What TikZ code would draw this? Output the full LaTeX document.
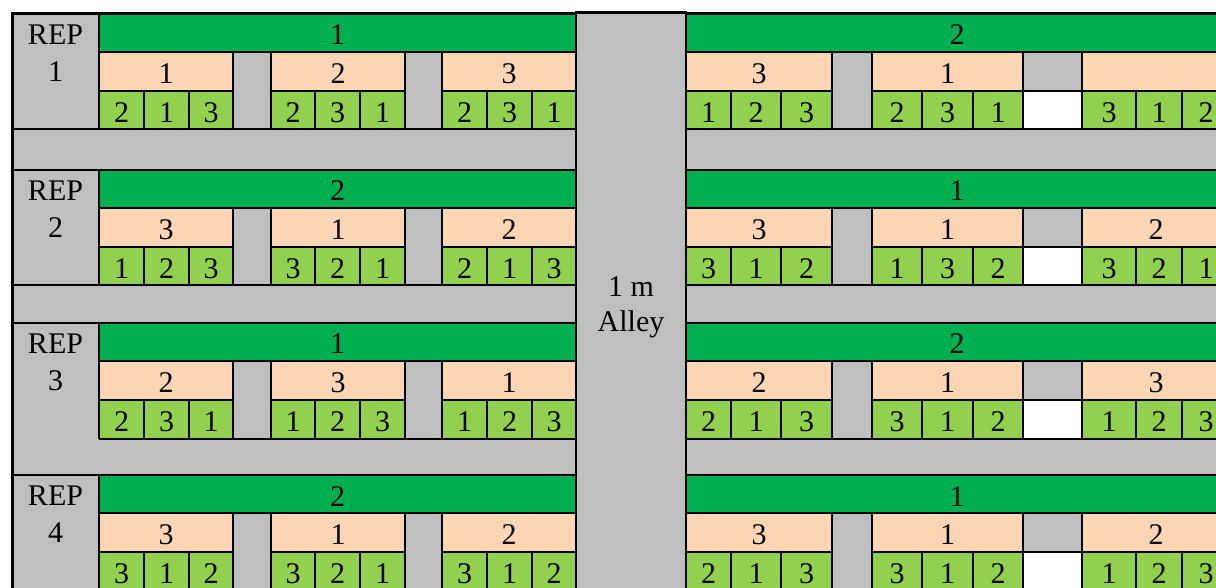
\documentclass[tikz,border=0pt]{standalone}
\usepackage{fontspec}
\setmainfont{Liberation Serif}
\definecolor{mainplot}{HTML}{00B050}
\definecolor{subplot}{HTML}{FCD5B4}
\definecolor{subsubplot}{HTML}{92D050}
\definecolor{walkway}{HTML}{BFBFBF}
\tikzset{
  lab/.style={anchor=base, inner sep=0pt, font=\fontsize{15}{18}\selectfont},
  cellbox/.style={draw=black, line width=0.7pt},
  sep/.style={line width=1pt},
}
% subplot label / three sub-subplot labels, one entry per block
\def\repA{1/2/1/3, 2/2/3/1, 3/2/3/1, 3/1/2/3, 1/2/3/1, {}/3/1/2}
\def\repB{3/1/2/3, 1/3/2/1, 2/2/1/3, 3/3/1/2, 1/1/3/2, 2/3/2/1}
\def\repC{2/2/3/1, 3/1/2/3, 1/1/2/3, 2/2/1/3, 1/3/1/2, 3/1/2/3}
\def\repD{3/3/1/2, 1/3/2/1, 2/3/1/2, 3/2/1/3, 1/3/1/2, 2/1/2/3}

\begin{document}
\begin{tikzpicture}[x=0.5pt, y=-0.5pt]
  \useasboundingbox (0,0) rectangle (1216,588);
  \clip (0,0) rectangle (1216,588);
  \fill[walkway] (12,14) rectangle (1240,620);

  \foreach \r/\yt/\gx/\ml/\mr [count=\n] in {A/14/12/1/2, B/170/12/2/1, C/323/99/1/2, D/475/12/2/1}{
    % main plots
    \filldraw[cellbox, fill=mainplot] (99,\yt) rectangle (576,\yt+38);
    \filldraw[cellbox, fill=mainplot] (686,\yt) rectangle (1240,\yt+38);
    \node[lab] (main-\n-l) at (337.5,\yt+31) {\ml};
    \node[lab] (main-\n-r) at (957,\yt+31) {\mr};
    \node[lab] (rep-\n) at (55.5,\yt+30.5) {REP};
    \node[lab] (repno-\n) at (55.5,\yt+67.5) {\n};
    % sub plots and sub-sub plots
    \expandafter\let\expandafter\blocks\csname rep\r\endcsname
    \foreach \pl/\ca/\cb/\cc [count=\k from 0] in \blocks {
      \pgfmathsetmacro\xa{{99,271,442,686,872,1082}[\k]}
      \pgfmathsetmacro\xb{{144,315,487,731,922,1136}[\k]}
      \pgfmathsetmacro\xc{{189,360,532,781,973,1182}[\k]}
      \pgfmathsetmacro\xd{{233,405,576,832,1023,1230}[\k]}
      \filldraw[cellbox, fill=subplot] (\xa,\yt+38) rectangle (\xd,\yt+77);
      \filldraw[cellbox, fill=subsubplot] (\xa,\yt+77) rectangle (\xb,\yt+115.5);
      \filldraw[cellbox, fill=subsubplot] (\xb,\yt+77) rectangle (\xc,\yt+115.5);
      \filldraw[cellbox, fill=subsubplot] (\xc,\yt+77) rectangle (\xd,\yt+115.5);
      \node[lab] (sub-\n-\k) at ({(\xa+\xd)/2},\yt+69.5) {\pl};
      \node[lab] (ss-\n-\k-1) at ({(\xa+\xb)/2},\yt+108.5) {\ca};
      \node[lab] (ss-\n-\k-2) at ({(\xb+\xc)/2},\yt+108.5) {\cb};
      \node[lab] (ss-\n-\k-3) at ({(\xc+\xd)/2},\yt+108.5) {\cc};
    }
    \filldraw[cellbox, fill=white] (1023,\yt+77) rectangle (1082,\yt+115.5);
    % walkway borders
    \draw[sep] (12,\yt) -- (1240,\yt);
    \draw[sep] (\gx,\yt+115.5) -- (1240,\yt+115.5);
    \draw[sep] (99,\yt) -- (99,\yt+115.5);
  }

  % outer frame
  \draw[line width=1.5pt] (12,620) -- (12,14) -- (1240,14);

  % alley
  \filldraw[fill=walkway, draw=black, line width=1.1pt] (576,12.5) rectangle (686,620);
  \node[lab] (alley-w) at (631,296.5) {1 m};
  \node[lab] (alley) at (631,331.5) {Alley};
\end{tikzpicture}
\end{document}
